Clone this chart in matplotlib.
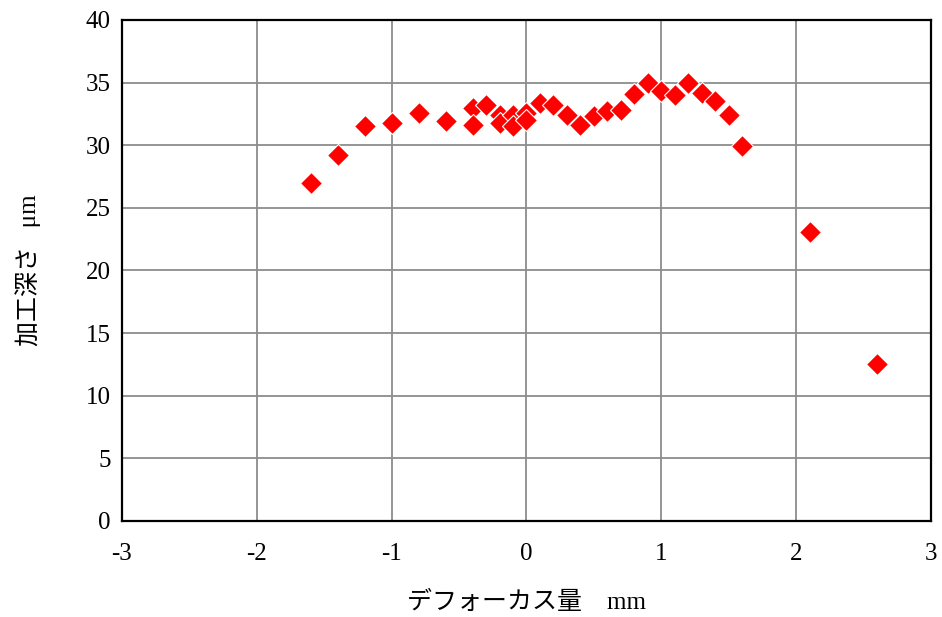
import matplotlib
matplotlib.use("Agg")
import matplotlib.pyplot as plt

# Defocus amount (mm) and machined depth (µm)
defocus_mm = [-1.6, -1.4, -1.2, -1.0, -0.8, -0.6, -0.4, -0.4, -0.3,
              -0.2, -0.2, -0.1, -0.1, 0.0, 0.0, 0.1, 0.2, 0.3, 0.4,
              0.5, 0.6, 0.7, 0.8, 0.9, 1.0, 1.1, 1.2, 1.3, 1.4, 1.5,
              1.6, 2.1, 2.6]
depth_um = [27.0, 29.2, 31.5, 31.8, 32.6, 31.9, 33.0, 31.6, 33.2,
            32.4, 31.8, 32.4, 31.5, 32.6, 32.0, 33.4, 33.2, 32.4, 31.6,
            32.3, 32.7, 32.8, 34.1, 35.0, 34.3, 34.0, 35.0, 34.2, 33.5, 32.4,
            29.9, 23.1, 12.5]

x_ticks = [-3, -2, -1, 0, 1, 2, 3]
y_ticks = [0, 5, 10, 15, 20, 25, 30, 35, 40]

serif = ["Liberation Serif", "Noto Sans CJK JP"]

fig = plt.figure(figsize=(9.42, 6.17), dpi=100)
ax = fig.add_axes([0.1295, 0.1556, 0.8588, 0.8120])

ax.plot(defocus_mm, depth_um, linestyle="none", marker="D", markersize=11.5,
        markerfacecolor="#ff0000", markeredgecolor="white",
        markeredgewidth=0.8, zorder=3, clip_on=False)

ax.set_xlim(-3, 3)
ax.set_ylim(0, 40)
ax.set_xticks(x_ticks)
ax.set_yticks(y_ticks)
ax.set_xticklabels([str(t) for t in x_ticks])
ax.set_yticklabels([str(t) for t in y_ticks])

ax.grid(True, color="#8c8c8c", linewidth=1.3)
ax.set_axisbelow(True)
for sp in ax.spines.values():
    sp.set_color("black")
    sp.set_linewidth(1.6)

ax.tick_params(axis="both", length=0, labelsize=18)
ax.tick_params(axis="x", pad=16)
ax.tick_params(axis="y", pad=8)
for lab in ax.get_xticklabels() + ax.get_yticklabels():
    lab.set_family(serif)

ax.set_xlabel("デフォーカス量    mm", family=serif, fontsize=18, labelpad=18)
ax.set_ylabel("加工深さ   μm", family=serif, fontsize=18, labelpad=32)

fig.savefig("out.png", dpi=100)
